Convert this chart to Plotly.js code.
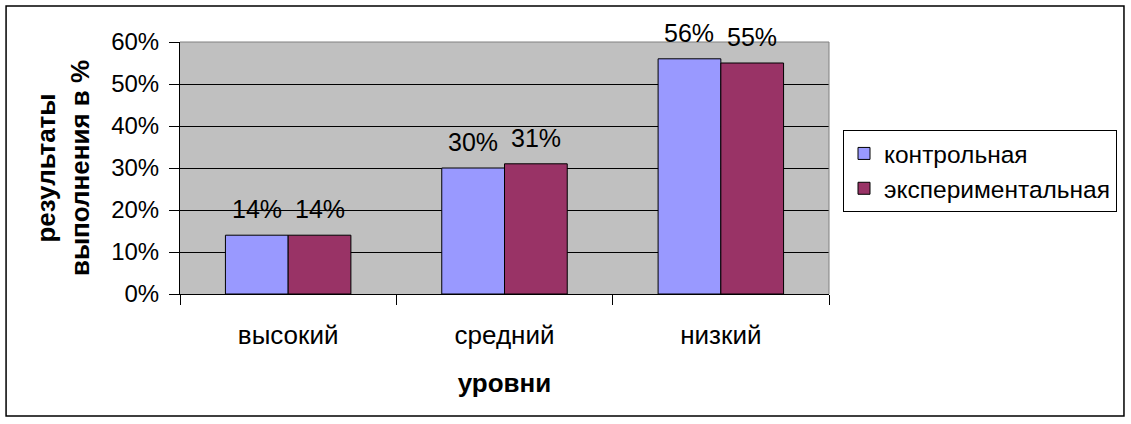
<!DOCTYPE html>
<html>
<head>
<meta charset="utf-8">
<script src="https://cdn.plot.ly/plotly-3.0.1.min.js"></script>
<style>
html,body{margin:0;padding:0;background:#fff;}
#chart{width:1131px;height:424px;}
</style>
</head>
<body>
<div id="chart"></div>
<script>
const categories = ["высокий", "средний", "низкий"];
const controlValues = [0.14, 0.30, 0.56];
const experimentalValues = [0.14, 0.31, 0.55];
const seriesNames = ["контрольная", "экспериментальная"];
const yTitle = "результаты<br>выполнения в %";
const xTitle = "уровни";

const font = "Liberation Sans, Arial, sans-serif";

const W = 1131, H = 424;
const margin = {l: 180, r: 302, t: 42, b: 130};
const bargap = 0.42;
const plotW = W - margin.l - margin.r;
const barOffsetPx = (1 - bargap) * (plotW / categories.length) / 4;

const common = {
  type: "bar",
  x: categories,
  cliponaxis: false,
  hoverinfo: "none"
};

const traces = [
  Object.assign({}, common, {
    name: seriesNames[0],
    y: controlValues,
    marker: {color: "#9999FF", line: {color: "#000", width: 1}}
  }),
  Object.assign({}, common, {
    name: seriesNames[1],
    y: experimentalValues,
    marker: {color: "#993366", line: {color: "#000", width: 1}}
  })
];

const labelAnnotations = [];
[controlValues, experimentalValues].forEach((vals, si) => {
  vals.forEach((v, i) => {
    labelAnnotations.push({
      x: categories[i], y: v, xref: "x", yref: "y",
      text: Math.round(v * 100) + "%",
      showarrow: false,
      xanchor: "center", yanchor: "bottom",
      xshift: (si === 0 ? -1 : 1) * barOffsetPx,
      yshift: 10,
      font: {family: font, size: 25, color: "#000"}
    });
  });
});

const layout = {
  width: W,
  height: H,
  margin: Object.assign({autoexpand: false}, margin),
  paper_bgcolor: "#fff",
  plot_bgcolor: "#C0C0C0",
  barmode: "group",
  bargap: bargap,
  bargroupgap: 0,
  font: {family: font, size: 24, color: "#000"},
  showlegend: true,
  legend: {
    xref: "container", yref: "container",
    x: 843 / W, xanchor: "left",
    y: 1 - 130 / H, yanchor: "top",
    bordercolor: "#000", borderwidth: 1,
    bgcolor: "#fff",
    font: {family: font, size: 24.5, color: "#000"},
    tracegroupgap: 0
  },
  xaxis: {
    showgrid: false,
    showline: true, linecolor: "#000", linewidth: 1,
    ticks: "outside", ticklen: 10, tickcolor: "#000",
    tickson: "boundaries",
    ticklabelstandoff: 18,
    tickfont: {family: font, size: 26, color: "#000"},
    title: {text: xTitle, font: {family: font, size: 26, color: "#000", weight: "bold"}, standoff: 24},
    fixedrange: true
  },
  yaxis: {
    range: [0, 0.6],
    dtick: 0.1,
    tickformat: ".0%",
    showgrid: true, gridcolor: "#000", gridwidth: 1,
    showline: true, linecolor: "#000", linewidth: 1,
    zeroline: false,
    ticks: "outside", ticklen: 10, tickcolor: "#000",
    ticklabelstandoff: 5,
    tickfont: {family: font, size: 24, color: "#000"},
    title: {text: yTitle, font: {family: font, size: 26, color: "#000", weight: "bold"}, standoff: 14},
    fixedrange: true
  },
  annotations: labelAnnotations,
  shapes: [
    {type: "line", xref: "paper", yref: "paper", x0: 1, x1: 1, y0: 0, y1: 1,
     line: {color: "#808080", width: 1}},
    {type: "line", xref: "paper", yref: "paper", x0: 0, x1: 1, y0: 1, y1: 1,
     line: {color: "#808080", width: 1}},
    {type: "rect", xref: "paper", yref: "paper", x0: -0.268, x1: 1.4545, y0: -0.484, y1: 1.143,
     line: {color: "#000", width: 1.5}, fillcolor: "rgba(0,0,0,0)", layer: "below"}
  ]
};

Plotly.newPlot("chart", traces, layout, {displayModeBar: false, staticPlot: true});
</script>
</body>
</html>
